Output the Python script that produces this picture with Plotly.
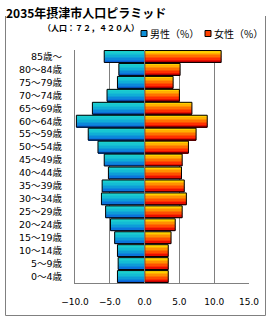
import plotly.graph_objects as go

ages = ["0～4歳", "5～9歳", "10～14歳", "15～19歳", "20～24歳", "25～29歳",
        "30～34歳", "35～39歳", "40～44歳", "45～49歳", "50～54歳", "55～59歳",
        "60～64歳", "65～69歳", "70～74歳", "75～79歳", "80～84歳", "85歳～"]
male = [3.9, 3.8, 3.9, 4.3, 4.9, 5.6, 6.2, 6.1, 5.2, 5.8, 6.7, 8.1,
        9.8, 7.5, 5.4, 3.9, 3.7, 5.8]
female = [3.4, 3.4, 3.4, 3.8, 4.4, 5.4, 6.0, 5.7, 5.3, 5.4, 6.3, 7.4,
          9.0, 6.8, 5.0, 4.1, 5.1, 11.0]
x_ticks = [-10, -5, 0, 5, 10, 15]

title_text = "2035年摂津市人口ピラミッド"
subtitle_text = "（人口：７２，４２０人）"
male_name = "男性（%）"
female_name = "女性（%）"

FONT = "Noto Sans CJK JP"
LABEL_FONT = "DejaVu Sans, Noto Sans CJK JP"

# vertical gradients, bottom -> top
male_grad = ["#0a62dc", "#0b74dc", "#0c88da", "#0e9cd8", "#10aed6", "#14bcd4", "#18c6d2", "#1ccfd0"]
female_grad = ["#c80000", "#e81000", "#ff3000", "#ff5000", "#ff7000", "#ff9000", "#ffb000", "#ffd000"]

W = 0.92
N = len(male_grad)
male_neg = [-v for v in male]

fig = go.Figure()
for k in range(N):
    off = -W / 2 + k * W / N
    fig.add_trace(go.Bar(y=ages, x=male_neg, orientation="h", width=W / N + 0.002, offset=off,
                         marker=dict(color=male_grad[k], line=dict(width=0)),
                         showlegend=False, hoverinfo="skip"))
    fig.add_trace(go.Bar(y=ages, x=female, orientation="h", width=W / N + 0.002, offset=off,
                         marker=dict(color=female_grad[k], line=dict(width=0)),
                         showlegend=False, hoverinfo="skip"))
# outlines
fig.add_trace(go.Bar(y=ages, x=male_neg, orientation="h", width=W, name=male_name,
                     marker=dict(color="rgba(0,0,0,0)", line=dict(color="black", width=1)),
                     showlegend=False))
fig.add_trace(go.Bar(y=ages, x=female, orientation="h", width=W, name=female_name,
                     marker=dict(color="rgba(0,0,0,0)", line=dict(color="black", width=1)),
                     showlegend=False))

L, R, T, B = 75, 21, 50, 37
PW, PH = 270 - L - R, 320 - T - B


def px(x):
    return (x - L) / PW


def py(y):
    return (320 - B - y) / PH


shapes = [
    dict(type="line", xref="x", yref="paper", x0=0, x1=0, y0=0, y1=1,
         line=dict(color="#808080", width=1), layer="above"),
    dict(type="line", xref="paper", yref="paper", x0=px(5.5), x1=px(5.5), y0=py(16), y1=py(315.5),
         line=dict(color="#808080", width=1)),
    dict(type="line", xref="paper", yref="paper", x0=px(5.5), x1=px(265.5), y0=py(315.5), y1=py(315.5),
         line=dict(color="#808080", width=1)),
    dict(type="line", xref="paper", yref="paper", x0=px(265.5), x1=px(265.5), y0=py(16), y1=py(315.5),
         line=dict(color="#808080", width=1)),
    dict(type="rect", xref="paper", yref="paper", x0=px(141), x1=px(147), y0=py(36.5), y1=py(30.5),
         fillcolor="#0e90d8", line=dict(color="black", width=1)),
    dict(type="rect", xref="paper", yref="paper", x0=px(205), x1=px(211), y0=py(36.5), y1=py(30.5),
         fillcolor="#ff4000", line=dict(color="black", width=1)),
]

annotations = [
    dict(text="<b>" + title_text + "</b>", xref="paper", yref="paper", x=px(4), y=py(13),
         xanchor="left", yanchor="middle", showarrow=False, font=dict(size=12, color="black", family=FONT)),
    dict(text="<b>" + subtitle_text + "</b>", xref="paper", yref="paper", x=px(41), y=py(27),
         xanchor="left", yanchor="middle", showarrow=False, font=dict(size=8, color="black", family=FONT)),
    dict(text=male_name, xref="paper", yref="paper", x=px(148), y=py(33.5),
         xanchor="left", yanchor="middle", showarrow=False, font=dict(size=10, color="black", family=FONT)),
    dict(text=female_name, xref="paper", yref="paper", x=px(212), y=py(33.5),
         xanchor="left", yanchor="middle", showarrow=False, font=dict(size=10, color="black", family=FONT)),
]

fig.update_layout(
    width=270, height=320,
    margin=dict(l=L, r=R, t=T, b=B, pad=0),
    paper_bgcolor="white", plot_bgcolor="white",
    barmode="overlay",
    showlegend=False,
    font=dict(family=FONT, size=9, color="black"),
    shapes=shapes,
    annotations=annotations,
    xaxis=dict(range=[-10, 15], tickvals=x_ticks, tickformat=".1f",
               showgrid=True, gridcolor="#808080", gridwidth=1,
               zeroline=False, showline=True, linecolor="#808080", linewidth=1,
               ticks="", ticklabelstandoff=10, tickfont=dict(size=9, family=LABEL_FONT, color="black"),
               fixedrange=True),
    yaxis=dict(type="category", categoryorder="array", categoryarray=ages,
               showgrid=False, zeroline=False, showline=True, linecolor="#808080", linewidth=1,
               ticks="", ticklabelstandoff=10, tickfont=dict(size=9.5, family=LABEL_FONT, color="black"),
               range=[-0.5, len(ages) - 0.5], fixedrange=True),
)

fig.write_html("out.html")
